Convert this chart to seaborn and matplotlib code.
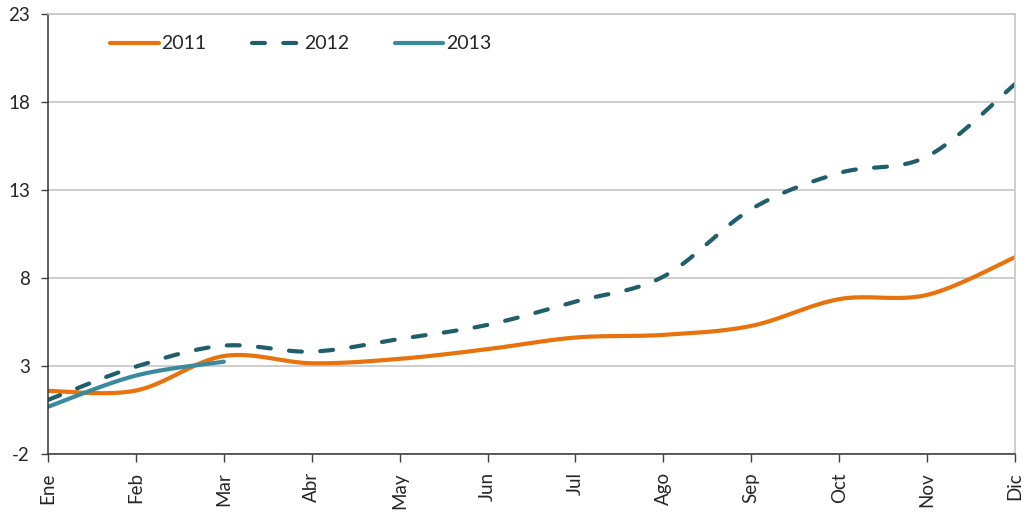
import numpy as np
import pandas as pd
import matplotlib
matplotlib.use("Agg")
import matplotlib.pyplot as plt
import seaborn as sns

meses = ["Ene", "Feb", "Mar", "Abr", "May", "Jun", "Jul", "Ago", "Sep", "Oct", "Nov", "Dic"]
v2011 = [1.6, 1.62, 3.58, 3.17, 3.42, 3.97, 4.63, 4.78, 5.29, 6.81, 7.05, 9.19]
v2012 = [1.09, 2.98, 4.17, 3.83, 4.55, 5.35, 6.67, 8.09, 11.92, 13.97, 14.91, 19.02]
v2013 = [0.7, 2.47, 3.26]
yticks = [-2, 3, 8, 13, 18, 23]


def suavizar(vals, n=30):
    # curva tipo Excel "linea suavizada" (Catmull-Rom) entre los puntos
    p = np.array(vals, dtype=float)
    x = np.arange(len(p), dtype=float)
    pts = np.column_stack([x, p])
    ext = np.vstack([pts[0], pts, pts[-1]])
    out = []
    for i in range(len(pts) - 1):
        p0, p1, p2, p3 = ext[i], ext[i + 1], ext[i + 2], ext[i + 3]
        c1 = p1 + (p2 - p0) / 6
        c2 = p2 - (p3 - p1) / 6
        t = np.linspace(0, 1, n)[:, None]
        seg = (1 - t) ** 3 * p1 + 3 * (1 - t) ** 2 * t * c1 + 3 * (1 - t) * t ** 2 * c2 + t ** 3 * p2
        out.append(seg if i == 0 else seg[1:])
    out = np.vstack(out)
    return pd.DataFrame({"x": out[:, 0], "y": out[:, 1]})


sns.set_style("white")
plt.rcParams["font.family"] = ["Lato", "DejaVu Sans"]
plt.rcParams["axes.unicode_minus"] = False

fig = plt.figure(figsize=(10.29, 5.12), dpi=100)
ax = fig.add_axes([0.0467, 0.1127, 0.9397, 0.86])

d = suavizar(v2011)
sns.lineplot(x="x", y="y", data=d, sort=False, color="#E8720C", linewidth=3, label="2011", ax=ax)
d = suavizar(v2012)
sns.lineplot(x="x", y="y", data=d, sort=False, color="#215E6C", linewidth=3, label="2012", ax=ax)
ax.lines[-1].set_dashes((3.1, 4.4))
ax.lines[-1].set_dash_capstyle("round")
d = suavizar(v2013)
sns.lineplot(x="x", y="y", data=d, sort=False, color="#3A8A9E", linewidth=3, label="2013", ax=ax)

ax.set_xlim(0, len(meses) - 1)
ax.set_ylim(-2, 23)
ax.set_yticks(yticks)
ax.set_xticks(range(len(meses)))
ax.set_xticklabels(meses, rotation=90, fontsize=13.5)
ax.tick_params(axis="y", labelsize=13.5, length=5, width=1, color="#404040", pad=8, left=True)
ax.tick_params(axis="x", length=6, width=1, color="#404040", bottom=True, pad=7)
ax.set_xlabel("")
ax.set_ylabel("")

ax.grid(axis="y", color="#c6c6c6", linewidth=1.2)
ax.set_axisbelow(True)
for s in ["left", "bottom"]:
    ax.spines[s].set_color("#333333")
    ax.spines[s].set_linewidth(1.1)
for s in ["top", "right"]:
    ax.spines[s].set_color("#c6c6c6")
    ax.spines[s].set_linewidth(1.2)

ax.legend(loc="center left", bbox_to_anchor=(0.064, 0.932), ncol=3, frameon=False,
          fontsize=14, handlelength=2.5, handletextpad=0.15, columnspacing=2.35,
          borderpad=0, borderaxespad=0)

fig.savefig("out.png", dpi=100)
